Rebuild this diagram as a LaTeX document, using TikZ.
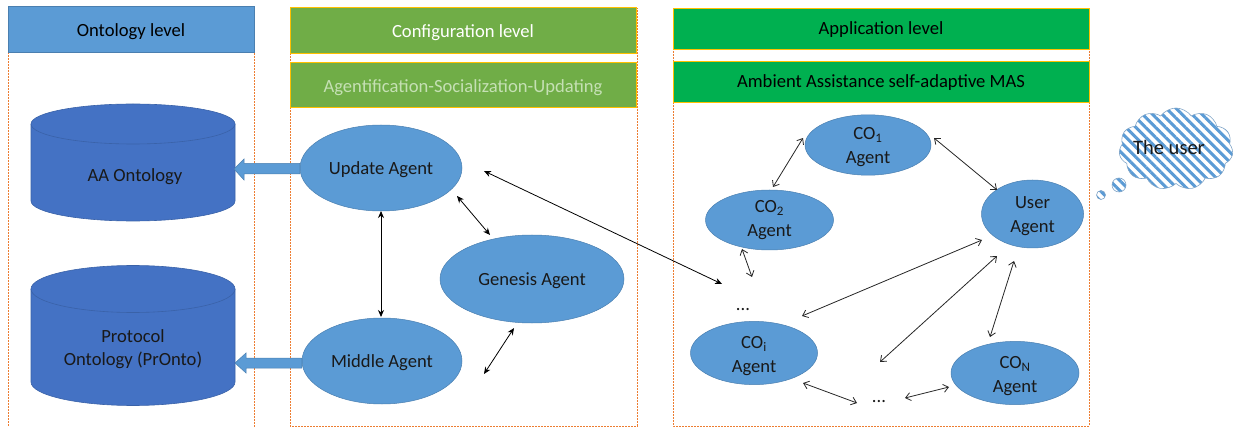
\documentclass[tikz,border=0pt]{standalone}
\usepackage{fontspec}
\setmainfont{Carlito}
\usetikzlibrary{arrows.meta,shapes.geometric,shapes.symbols,patterns.meta}
\definecolor{bluefill}{HTML}{5B9BD5}
\definecolor{blueline}{HTML}{4A7FB0}
\definecolor{cylfill}{HTML}{4472C4}
\definecolor{cylline}{HTML}{3A62A8}
\definecolor{greenA}{HTML}{70AD47}
\definecolor{greenB}{HTML}{00B050}
\definecolor{goldline}{HTML}{FFC000}
\definecolor{orangeline}{HTML}{ED7D31}
\definecolor{palegreen}{HTML}{C5E0B4}
\newcommand{\bigfont}{\fontsize{18.6}{23.5}\selectfont}
\newcommand{\dn}[1]{\rule{0pt}{#1}}
\tikzset{
  tdown/.style={execute at begin node={\rule{0pt}{17pt}}},
  panel/.style={draw=orangeline,dash pattern=on 2pt off 1pt,line width=0.8pt},
  banner/.style={draw=#1,line width=1pt,anchor=center,inner sep=0pt,font=\bigfont},
  agent/.style={ellipse,draw=blueline,fill=bluefill,line width=0.5pt,inner sep=0pt,align=center,font=\bigfont,text=black!90},
  label/.style={font=\bigfont,text=black!90,align=center,inner sep=0pt},
  fat/.style={fill=bluefill,draw=blueline,line width=0.5pt},
  link/.style={{Straight Barb[length=5pt,width=8pt]}-{Straight Barb[length=5pt,width=8pt]},line width=0.8pt,black!85},
  solidlink/.style={{Stealth[length=7pt,width=6pt]}-{Stealth[length=7pt,width=6pt]},line width=0.8pt,black},
  cyl/.style={fill=cylfill,draw=cylline,line width=0.6pt},
  stripes/.style={preaction={fill=white},pattern={Lines[angle=-45,distance=7pt,line width=3pt]},pattern color=bluefill,draw=blueline!70,line width=0.6pt},
}
\begin{document}
\begin{tikzpicture}[x=1pt,y=-1pt]
\useasboundingbox (0,0) rectangle (1238,427);
% panels
\draw[panel] (8,7) rectangle (254,427);
\draw[panel] (290,8) rectangle (637,426);
\draw[panel] (673,9) rectangle (1089,426);
% banners
\node[banner=blueline,fill=bluefill,minimum width=246pt,minimum height=46pt,tdown] (h1) at (131,30) {Ontology level};
\node[banner=goldline,fill=greenA,minimum width=346pt,minimum height=46pt,text=white,tdown] (h2) at (463,31) {Configuration level};
\node[banner=goldline,fill=greenA,minimum width=346pt,minimum height=45pt,text=palegreen,tdown] (h2b) at (463,85.5) {Agentification-Socialization-Updating};
\node[banner=goldline,fill=greenB,minimum width=416pt,minimum height=41pt] (h3) at (881,29.5) {Application level};
\node[banner=goldline,fill=greenB,minimum width=416pt,minimum height=41pt] (h3b) at (881,82.5) {Ambient Assistance self-adaptive MAS};
% cylinders
\draw[cyl] (31,124) -- (31,201) arc[x radius=102pt,y radius=20pt,start angle=180,end angle=360] -- (235,124) arc[x radius=102pt,y radius=20pt,start angle=0,end angle=180] -- cycle;
\draw[cyl] (31,124) arc[x radius=102pt,y radius=20pt,start angle=180,end angle=360];
\node[label,tdown] (aa) at (135,175) {AA Ontology};
\draw[cyl] (31,289) -- (31,382) arc[x radius=102pt,y radius=23.5pt,start angle=180,end angle=360] -- (235,289) arc[x radius=102pt,y radius=23.5pt,start angle=0,end angle=180] -- cycle;
\draw[cyl] (31,289) arc[x radius=102pt,y radius=23.5pt,start angle=180,end angle=360];
\node[label] (pr) at (133,349) {Protocol\\Ontology (PrOnto)};
% agents
\node[agent,tdown,minimum width=162pt,minimum height=86pt] (update) at (381,168) {Update Agent};
\node[agent,tdown,minimum width=160pt,minimum height=86pt] (middle) at (382,361) {Middle Agent};
\node[agent,tdown,minimum width=184pt,minimum height=88pt] (genesis) at (532,279) {Genesis Agent};
\node[agent,minimum width=126pt,minimum height=60pt] (co1) at (868,145) {\dn{16pt}CO\textsubscript{1}\\Agent};
\node[agent,minimum width=128pt,minimum height=60pt] (co2) at (769.5,220) {CO\textsubscript{2}\\Agent};
\node[agent,minimum width=102pt,minimum height=68pt] (user) at (1032.5,214) {\dn{16pt}User\\Agent};
\node[agent,minimum width=127pt,minimum height=60pt] (coi) at (754,353) {\dn{18pt}CO\textsubscript{i}\\Agent};
\node[agent,minimum width=128pt,minimum height=61pt] (con) at (1015,373) {\dn{18pt}CO\textsubscript{N}\\Agent};
\node[label,tdown] (dotsA) at (743,302) {...};
\node[label,tdown] (dotsB) at (879,394) {...};
% thick arrows
\draw[fat] (update.west |- 0,163.5) -- (244,163.5) -- (244,159) -- (234,169) -- (244,180) -- (244,174) -- (update.west |- 0,174) -- cycle;
\draw[fat] (middle.west |- 0,358) -- (246,358) -- (246,353) -- (235,363) -- (246,373) -- (246,368) -- (middle.west |- 0,368) -- cycle;
% connector ends
\coordinate (a1) at (381,211); \coordinate (a2) at (381,317);
\coordinate (b1) at (457,196); \coordinate (b2) at (490,235);
\coordinate (c1) at (484,171); \coordinate (c2) at (722,284);
\coordinate (d1) at (514,328); \coordinate (d2) at (484,374);
\coordinate (e1) at (803,138); \coordinate (e2) at (773,187);
\coordinate (f1) at (934,138); \coordinate (f2) at (997,190);
\coordinate (g1) at (742,249); \coordinate (g2) at (752,277);
\coordinate (h1e) at (802,316); \coordinate (h2e) at (982,240);
\coordinate (i1) at (880,362); \coordinate (i2) at (997,256);
\coordinate (j1) at (990,337); \coordinate (j2) at (1014,261);
\coordinate (k1) at (803,383); \coordinate (k2) at (857,403);
\coordinate (l1) at (905,398); \coordinate (l2) at (949,387);
\draw[solidlink] (a1) -- (a2);
\draw[solidlink] (b1) -- (b2);
\draw[solidlink] (c1) -- (c2);
\draw[solidlink] (d1) -- (d2);
\draw[link] (e1) -- (e2);
\draw[link] (f1) -- (f2);
\draw[link] (g1) -- (g2);
\draw[link] (h1e) -- (h2e);
\draw[link] (i1) -- (i2);
\draw[link] (j1) -- (j2);
\draw[link] (k1) -- (k2);
\draw[link] (l1) -- (l2);
% thought cloud
\node[cloud,cloud puffs=11,cloud puff arc=110,aspect=1.4,stripes,minimum width=114pt,minimum height=82pt,inner sep=0pt] (cloud) at (1176,149) {};
\node[inner sep=0pt,text=black!90,font=\fontsize{20.5}{23}\selectfont] (usertext) at (1169,147) {The user};
\node[circle,stripes,minimum size=14pt,inner sep=0pt] (bub1) at (1119,185) {};
\node[circle,stripes,minimum size=9pt,inner sep=0pt] (bub2) at (1101,195) {};
\end{tikzpicture}
\end{document}
